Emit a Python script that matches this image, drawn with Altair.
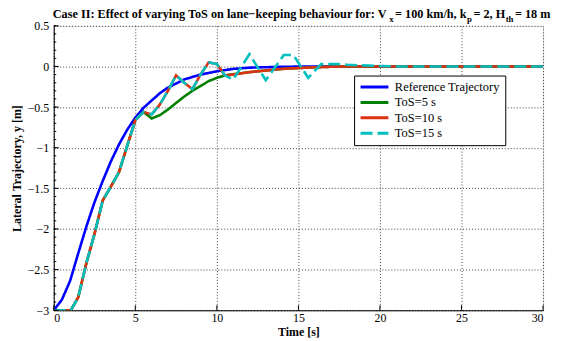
import altair as alt
import pandas as pd

# ---------------- data ----------------
series_names = ["Reference Trajectory", "ToS=5 s", "ToS=10 s", "ToS=15 s"]
series_colors = ["#0000FF", "#008000", "#DD3311", "#00BFBF"]
series_dashes = [[1, 0], [1, 0], [1, 0], [12, 5]]

ref_t = [0, 0.5, 1, 1.5, 2, 2.5, 3, 3.5, 4, 4.5, 5, 5.5, 6, 6.5, 7, 8, 9, 10, 11, 12, 14, 16, 30]
ref_y = [-3, -2.87, -2.64, -2.3, -1.97, -1.67, -1.41, -1.17, -0.96, -0.78, -0.63, -0.51, -0.42,
         -0.33, -0.26, -0.16, -0.1, -0.06, -0.03, -0.015, -0.004, 0, 0]

tos5_t = [0, 1.05, 1.5, 2, 2.5, 3, 3.5, 4, 4.5, 5, 5.5, 6, 6.5, 7, 7.5, 8, 8.5, 9, 9.5, 10, 10.5,
          11, 12, 13, 14, 15, 16, 17, 18, 30]
tos5_y = [-3, -3, -2.84, -2.42, -2.06, -1.65, -1.48, -1.3, -0.98, -0.66, -0.56, -0.64, -0.6, -0.53,
          -0.45, -0.37, -0.3, -0.24, -0.18, -0.14, -0.11, -0.095, -0.07, -0.05, -0.03, -0.02, -0.01,
          -0.004, 0, 0]

tos10_t = [0, 1.05, 1.5, 2, 2.5, 3, 3.5, 4, 4.5, 5, 5.5, 6, 6.5, 7, 7.5, 8, 8.5, 9, 9.5, 10, 10.5,
           11, 12, 13, 14, 15, 16, 17, 18, 30]
tos10_y = [-3, -3, -2.84, -2.42, -2.06, -1.65, -1.48, -1.3, -0.98, -0.66, -0.56, -0.59, -0.47, -0.3,
           -0.11, -0.2, -0.28, -0.1, 0.05, 0.03, -0.11, -0.1, -0.07, -0.05, -0.03, -0.02, -0.01,
           -0.004, 0, 0]

tos15_t = [0, 1.05, 1.5, 2, 2.5, 3, 3.5, 4, 4.5, 5, 5.5, 6, 6.5, 7, 7.5, 8, 8.5, 9, 9.5, 10, 10.5,
           11, 12, 13, 14.1, 14.7, 15.6, 16.4, 17.4, 18, 20, 21, 30]
tos15_y = [-3, -3, -2.84, -2.42, -2.06, -1.65, -1.48, -1.3, -0.98, -0.66, -0.56, -0.59, -0.47, -0.3,
           -0.11, -0.2, -0.28, -0.1, 0.05, 0.03, -0.11, -0.16, 0.15, -0.17, 0.14, 0.14, -0.14, 0.03,
           0.03, 0.02, 0.005, 0, 0]

x_ticks = [0, 5, 10, 15, 20, 25, 30]
y_ticks = [-3, -2.5, -2, -1.5, -1, -0.5, 0, 0.5]
y_minor = [round(-3 + 0.1 * i, 2) for i in range(36)]

# title pieces: (text, is_subscript)
title_parts = [
    ("Case II: Effect of varying ToS on lane\u2212keeping behaviour for: V", False),
    ("x", True),
    ("= 100 km/h, k", False),
    ("p", True),
    ("= 2, H", False),
    ("th", True),
    ("= 18 m", False),
]
# approximate Times-Bold advance widths (em) of the pieces
title_widths_em = [27.458, 0.5, 5.849, 0.556, 2.598, 0.889, 2.903]

rows = []
for name, ts, ys in zip(series_names, [ref_t, tos5_t, tos10_t, tos15_t],
                        [ref_y, tos5_y, tos10_y, tos15_y]):
    for a, b in zip(ts, ys):
        rows.append({"t": a, "y": b, "series": name})
df = pd.DataFrame(rows)

FONT = "Liberation Serif"
W, H = 492, 286

xs = alt.Scale(domain=[0, 30], nice=False, zero=False)
ysc = alt.Scale(domain=[-3, 0.5], nice=False, zero=False)
cscale = alt.Scale(domain=series_names, range=series_colors)
dscale = alt.Scale(domain=series_names, range=series_dashes)

xaxis = alt.Axis(values=x_ticks, title="Time [s]", grid=True, gridDash=[1, 2], gridColor="#444",
                 gridWidth=1, tickSize=0, domainColor="black", domainWidth=1,
                 labelFont=FONT, labelFontSize=12, labelColor="black", labelPadding=2,
                 format="~g", titleFont=FONT, titleFontSize=12, titleFontWeight="bold",
                 titleColor="black", titlePadding=3)
yaxis = alt.Axis(values=y_ticks, title="Lateral Trajectory, y [m]", grid=True, gridDash=[1, 2],
                 gridColor="#444", gridWidth=1, tickSize=0, domainColor="black", domainWidth=1,
                 labelFont=FONT, labelFontSize=12, labelColor="black", labelPadding=5,
                 format="~g", titleFont=FONT, titleFontSize=12, titleFontWeight="bold",
                 titleColor="black", titlePadding=4)

legend = alt.Legend(title=None, orient="none", legendX=302, legendY=50, fillColor="white",
                    strokeColor="black", padding=5, labelFont=FONT,
                    labelFontSize=12.5, labelColor="black", symbolType="stroke",
                    symbolStrokeWidth=3, symbolSize=784, rowPadding=2.5, labelOffset=5,
                    clipHeight=13, cornerRadius=0)


def line(name):
    return alt.Chart(df).transform_filter(alt.datum.series == name).mark_line(
        strokeWidth=2.6, clip=True
    ).encode(
        x=alt.X("t:Q", scale=xs, axis=xaxis),
        y=alt.Y("y:Q", scale=ysc, axis=yaxis),
        color=alt.Color("series:N", scale=cscale, legend=legend),
        strokeDash=alt.StrokeDash("series:N", scale=dscale, legend=legend),
    )


ytick_df = pd.DataFrame({"y": y_ticks})
yminor_df = pd.DataFrame({"y": y_minor})
xtick_df = pd.DataFrame({"t": x_ticks})

ymajor = alt.Chart(ytick_df).mark_rule(color="black", strokeWidth=1).encode(
    y=alt.Y("y:Q", scale=ysc, axis=yaxis), x=alt.value(0), x2=alt.value(5))
yminor_r = alt.Chart(yminor_df).mark_rule(color="black", strokeWidth=1).encode(
    y=alt.Y("y:Q", scale=ysc, axis=yaxis), x=alt.value(0), x2=alt.value(2.5))
xmajor = alt.Chart(xtick_df).mark_rule(color="black", strokeWidth=1).encode(
    x=alt.X("t:Q", scale=xs, axis=xaxis), y=alt.value(H), y2=alt.value(H - 5))

# title built from pieces so that the subscripts sit lower and smaller
MAIN_FS, SUB_FS = 12.3, 8.8
title_layers = []
cx = -1.0
for (txt, sub), wem in zip(title_parts, title_widths_em):
    fs = SUB_FS if sub else MAIN_FS
    if sub:
        cx += 0.5
    title_layers.append(
        alt.Chart(pd.DataFrame({"k": [0]})).mark_text(
            align="left", baseline="alphabetic", font=FONT, fontWeight="bold",
            fontSize=fs, color="black", clip=False
        ).encode(x=alt.value(cx), y=alt.value(-4 if sub else -8), text=alt.value(txt))
    )
    cx += wem * fs + (1.5 if sub else 0)

chart = alt.layer(
    line(series_names[0]), line(series_names[1]), line(series_names[2]), line(series_names[3]),
    ymajor, yminor_r, xmajor, *title_layers
).properties(
    width=W, height=H,
    padding={"left": 46, "top": 17, "right": 10, "bottom": 30},
    autosize=alt.AutoSizeParams(type="none"),
).configure_view(stroke=None).configure(background="white")

chart.save("out.html", embed_options={"renderer": "svg", "actions": False})
